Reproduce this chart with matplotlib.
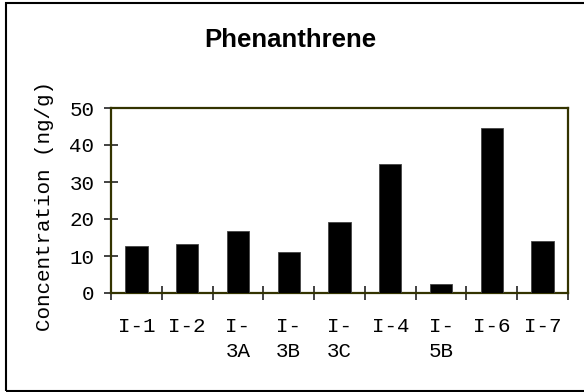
import numpy as np
import matplotlib.pyplot as plt
from matplotlib.patches import Rectangle

samples = ['I-1', 'I-2', 'I-\n3A', 'I-\n3B', 'I-\n3C', 'I-4', 'I-\n5B', 'I-6', 'I-7']
concentration = [12.8, 13.2, 16.8, 11.2, 19.2, 34.8, 2.5, 44.6, 14.1]
y_ticks = [0, 10, 20, 30, 40, 50]

mono = 'Liberation Mono'
spine_color = '#333300'

fig = plt.figure(figsize=(5.84, 3.92), dpi=100)
ax = fig.add_axes([111 / 584, 1 - 293 / 392, (568 - 111) / 584, (293 - 108) / 392])

x = np.arange(len(samples))
ax.bar(x, concentration, width=0.44, color='black', edgecolor='#444444', linewidth=0.6, zorder=3)

ax.set_xlim(-0.5, len(samples) - 0.5)
ax.set_ylim(0, 50)
ax.set_yticks(y_ticks)
ax.set_yticklabels([str(v) for v in y_ticks], family=mono, fontsize=15)

# category ticks sit between bars, labels are centred under each bar
ax.set_xticks(np.arange(len(samples) + 1) - 0.5)
ax.set_xticklabels([])
ax.set_xticks(x, minor=True)
ax.set_xticklabels(samples, minor=True, family=mono, fontsize=15,
                   linespacing=1.4, va='top')
ax.tick_params(axis='x', which='minor', length=0, pad=17)
ax.tick_params(axis='x', which='major', direction='inout', length=10, width=1.2, color='#222222')
ax.tick_params(axis='y', direction='inout', length=10, width=1.2, color='#222222', pad=7)

for s in ax.spines.values():
    s.set_color(spine_color)
    s.set_linewidth(1.6)

ax.set_ylabel('Concentration (ng/g)', family=mono, fontsize=15)
ax.yaxis.set_label_coords(-0.125, 0.47)

fig.text(0.497, 1 - 40 / 392, 'Phenanthrene', family='Liberation Sans', fontweight='bold',
         fontsize=18.5, ha='center', va='center')

# outer chart border
fig.patches.append(Rectangle((6 / 584, 1 / 392), 1.2, 388 / 392, transform=fig.transFigure,
                             fill=False, edgecolor='black', linewidth=1.5))

fig.savefig('out.png', dpi=100)
